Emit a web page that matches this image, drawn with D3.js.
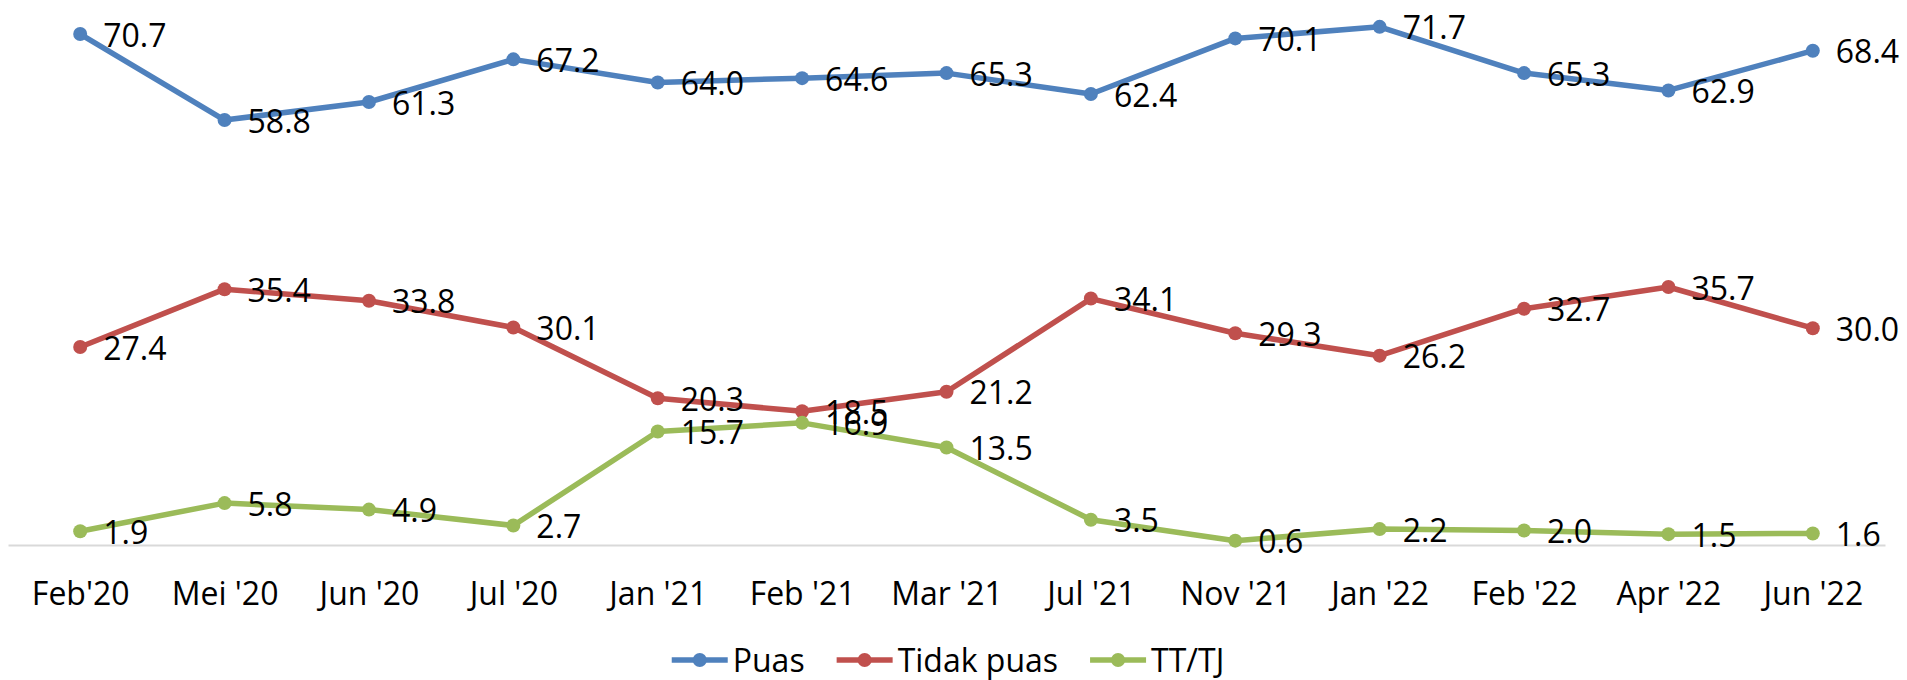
<!DOCTYPE html>
<html>
<head>
<meta charset="utf-8">
<script src="https://cdn.jsdelivr.net/npm/d3@7"></script>
<style>
  body { margin: 0; background: #fff; }
  svg { display: block; }
  text { font-family: "Open Sans", sans-serif; fill: #000; }
</style>
</head>
<body>
<svg id="chart" width="1907" height="680"></svg>
<script>
// categories on the x axis
const periods = ["Feb'20", "Mei '20", "Jun '20", "Jul '20", "Jan '21", "Feb '21", "Mar '21",
  "Jul '21", "Nov '21", "Jan '22", "Feb '22", "Apr '22", "Jun '22"];

// series values (%)
const puas = [70.7, 58.8, 61.3, 67.2, 64.0, 64.6, 65.3, 62.4, 70.1, 71.7, 65.3, 62.9, 68.4];
const tidakPuas = [27.4, 35.4, 33.8, 30.1, 20.3, 18.5, 21.2, 34.1, 29.3, 26.2, 32.7, 35.7, 30.0];
const ttTj = [1.9, 5.8, 4.9, 2.7, 15.7, 16.9, 13.5, 3.5, 0.6, 2.2, 2.0, 1.5, 1.6];

const seriesNames = ["Puas", "Tidak puas", "TT/TJ"];
const seriesColors = ["#4F81BD", "#C0504D", "#9BBB59"];

const series = [puas, tidakPuas, ttTj].map((values, i) => ({
  name: seriesNames[i], color: seriesColors[i], values
}));

const svg = d3.select('#chart');
const fontSize = 32;

const x = d3.scalePoint()
  .domain(periods)
  .range([8, 1885])
  .padding(0.5);   // points sit in the middle of each category

const y = d3.scaleLinear()
  .domain([0, 75])
  .range([545, 3]);

// x axis: light baseline, no ticks
const xAxis = d3.axisBottom(x).tickSize(0).tickPadding(0);
const gx = svg.append('g')
  .attr('transform', `translate(0,${y(0)})`)
  .call(xAxis);
gx.select('.domain').attr('stroke', '#d9d9d9').attr('stroke-width', 2);
gx.selectAll('text')
  .attr('y', 60)
  .attr('dy', 0)
  .style('font-size', fontSize + 'px')
  .style('font-family', '"Open Sans", sans-serif')
  .attr('fill', '#000');

const line = d3.line()
  .x((v, i) => x(periods[i]))
  .y(v => y(v));

// lines + markers
series.forEach(s => {
  const g = svg.append('g');
  g.append('path')
    .attr('d', line(s.values))
    .attr('fill', 'none')
    .attr('stroke', s.color)
    .attr('stroke-width', 5.5)
    .attr('stroke-linejoin', 'round');
  g.selectAll('circle')
    .data(s.values)
    .join('circle')
    .attr('cx', (v, i) => x(periods[i]))
    .attr('cy', v => y(v))
    .attr('r', 7)
    .attr('fill', s.color);
});

// data labels to the right of each point
series.forEach(s => {
  svg.append('g')
    .selectAll('text')
    .data(s.values)
    .join('text')
    .attr('x', (v, i) => x(periods[i]) + 23)
    .attr('y', v => y(v) + 1)
    .attr('dy', '0.36em')
    .style('font-size', fontSize + 'px')
    .text(v => v.toFixed(1));
});

// legend at the bottom, centred
const legend = svg.append('g');
let lx = 0;
series.forEach(s => {
  const g = legend.append('g').attr('transform', `translate(${lx},0)`);
  g.append('line')
    .attr('x1', 0).attr('x2', 56)
    .attr('stroke', s.color).attr('stroke-width', 5.5);
  g.append('circle').attr('cx', 28).attr('r', 7).attr('fill', s.color);
  const t = g.append('text')
    .attr('x', 61)
    .attr('dy', '0.36em')
    .style('font-size', fontSize + 'px')
    .text(s.name);
  lx += 61 + t.node().getComputedTextLength() + 32;
});
const legendW = lx - 32;
legend.attr('transform', `translate(${948 - legendW / 2},660)`);
</script>
</body>
</html>
